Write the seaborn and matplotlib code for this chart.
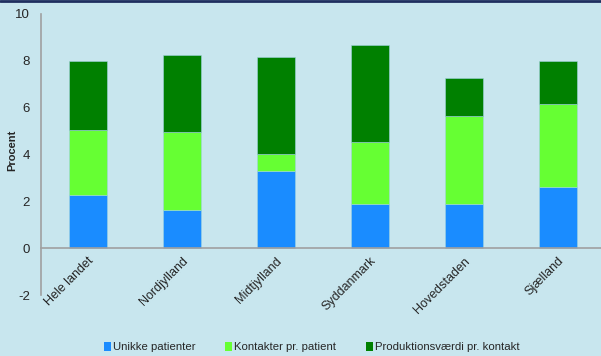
import matplotlib
matplotlib.use("Agg")
import matplotlib.pyplot as plt
import seaborn as sns
import numpy as np
from matplotlib.patches import Patch

regions = ["Hele landet", "Nordjylland", "Midtjylland", "Syddanmark", "Hovedstaden", "Sjælland"]
unikke_patienter = [2.26, 1.62, 3.28, 1.89, 1.89, 2.62]
kontakter_pr_patient = [2.78, 3.34, 0.74, 2.63, 3.74, 3.53]
produktionsvaerdi_pr_kontakt = [2.95, 3.27, 4.13, 4.17, 1.62, 1.84]
series_names = ["Unikke patienter", "Kontakter pr. patient", "Produktionsværdi pr. kontakt"]
series_colors = ["#1A8CFF", "#66FF33", "#008000"]
yticks = [-2, 0, 2, 4, 6, 8, 10]

sns.set_theme(style="white")
plt.rcParams["font.family"] = ["Liberation Sans", "DejaVu Sans"]

bg = "#C8E6EE"
fig = plt.figure(figsize=(6.01, 3.56), dpi=100, facecolor=bg)
ax = fig.add_axes([41 / 601, 1 - 295 / 356, 564 / 601, (295 - 14) / 356])
ax.set_facecolor(bg)

bottom = np.zeros(len(regions))
for name, vals, col in zip(series_names,
                           [unikke_patienter, kontakter_pr_patient, produktionsvaerdi_pr_kontakt],
                           series_colors):
    sns.barplot(x=regions, y=vals, bottom=bottom, color=col, width=0.4,
                saturation=1, ax=ax, edgecolor="#9FD3E0", linewidth=0.4)
    bottom = bottom + np.array(vals)

ax.set_ylim(-2, 10)
ax.set_xlim(-0.5, len(regions) - 0.5)
ax.set_yticks(yticks)
ax.set_yticklabels([str(t) for t in yticks], fontsize=9.5)
ax.set_ylabel("Procent", fontsize=8, fontweight="bold")
ax.yaxis.set_label_coords(-0.042, 0.514)

for s in ["top", "right"]:
    ax.spines[s].set_visible(False)
ax.spines["left"].set_color("#A0A0A0")
ax.spines["bottom"].set_color("#A0A0A0")
ax.spines["bottom"].set_position(("data", 0))
ax.spines["left"].set_linewidth(1.2)
ax.spines["bottom"].set_linewidth(1.2)
ax.tick_params(axis="both", length=0, pad=8)
ax.tick_params(axis="x", pad=5)
for lbl in ax.get_xticklabels():
    lbl.set_rotation(45)
    lbl.set_ha("right")
    lbl.set_rotation_mode("anchor")
    lbl.set_fontsize(9)

handles = [Patch(facecolor=c, edgecolor="none") for c in series_colors]
fig.legend(handles, series_names, loc="center", bbox_to_anchor=(312 / 601, 1 - 347 / 356),
           ncol=3, frameon=False, fontsize=8.2, handlelength=0.6, handleheight=0.9,
           handletextpad=0.2, columnspacing=2.6)

# thin navy rule along the top edge
fig.add_artist(plt.Line2D([0, 1], [0.998, 0.998], color="#1F2F5F", lw=2, transform=fig.transFigure))

fig.savefig("out.png", dpi=100, facecolor=bg)
